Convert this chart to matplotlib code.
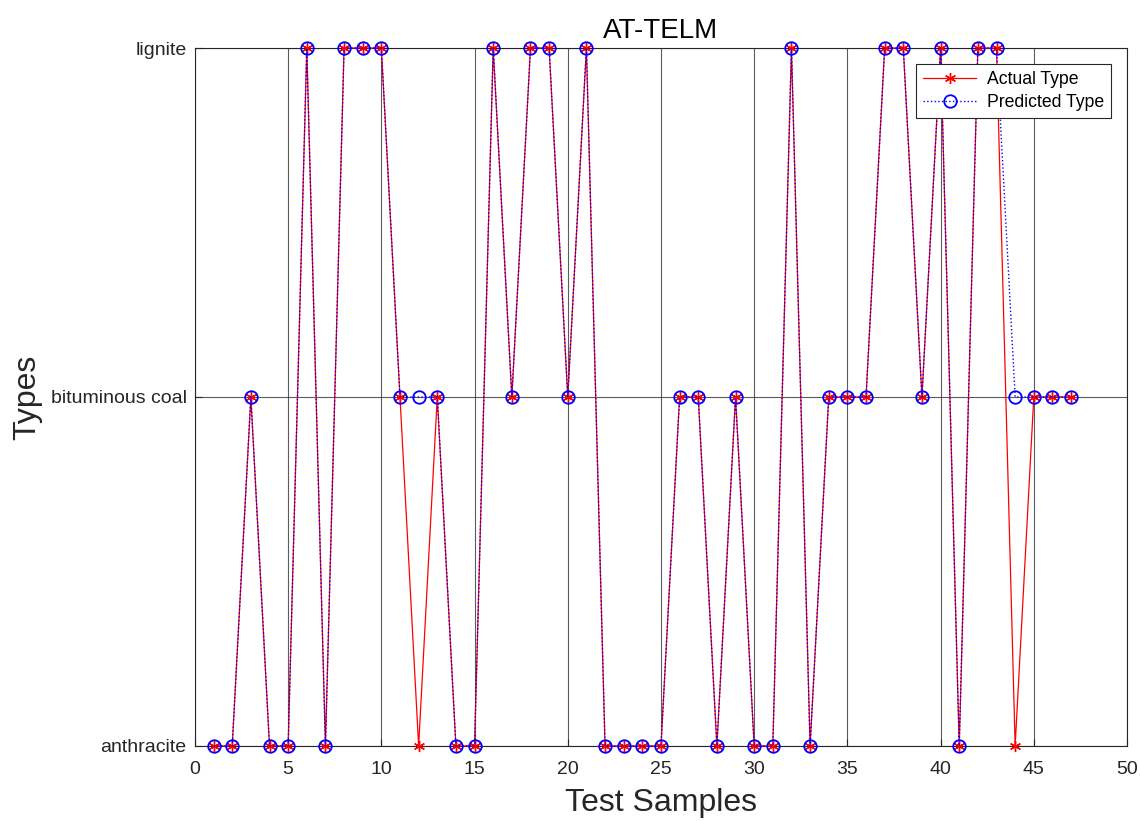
import numpy as np
import matplotlib.pyplot as plt

plt.rcParams['font.family'] = ['Liberation Sans', 'DejaVu Sans']

# 1 = anthracite, 2 = bituminous coal, 3 = lignite
samples = np.arange(1, 48)
actual = [1, 1, 2, 1, 1, 3, 1, 3, 3, 3,
          2, 1, 2, 1, 1, 3, 2, 3, 3, 2,
          3, 1, 1, 1, 1, 2, 2, 1, 2, 1,
          1, 3, 1, 2, 2, 2, 3, 3, 2, 3,
          1, 3, 3, 1, 2, 2, 2]
predicted = [1, 1, 2, 1, 1, 3, 1, 3, 3, 3,
             2, 2, 2, 1, 1, 3, 2, 3, 3, 2,
             3, 1, 1, 1, 1, 2, 2, 1, 2, 1,
             1, 3, 1, 2, 2, 2, 3, 3, 2, 3,
             1, 3, 3, 2, 2, 2, 2]
type_names = ['anthracite', 'bituminous coal', 'lignite']

fig = plt.figure(figsize=(11.4, 8.21), dpi=100)
ax = fig.add_axes([0.171, 0.0914, 0.8176, 0.8501])

ax.plot(samples, actual, 'r-', lw=0.9, marker=(6, 2, 0), ms=8, mew=1.0,
        label='Actual Type', clip_on=False, zorder=3)
ax.plot(samples, predicted, color='b', ls=':', lw=1.0, marker='o', ms=9,
        mfc='none', mec='b', mew=1.3, label='Predicted Type', clip_on=False, zorder=4)

ax.set_xlim(0, 50)
ax.set_ylim(1, 3)
ax.set_xticks(np.arange(0, 51, 5))
ax.set_yticks([1, 2, 3])
ax.set_yticklabels(type_names)
ax.tick_params(labelsize=14, direction='in', length=5, colors='#262626')
ax.tick_params(axis='x', pad=11)
ax.tick_params(axis='y', pad=6)
ax.grid(True, color='0.2', lw=0.8, alpha=0.8)
for s in ax.spines.values():
    s.set_color('#262626')
    s.set_linewidth(0.8)

ax.set_title('AT-TELM', fontsize=20, color='black', pad=7)
ax.set_xlabel('Test Samples', fontsize=23, color='#262626', labelpad=7)
ax.set_ylabel('Types', fontsize=23, color='#262626', labelpad=6)

leg = ax.legend(loc='upper right', bbox_to_anchor=(0.983, 0.977), fontsize=12.7,
                fancybox=False, edgecolor='#262626', framealpha=1,
                borderaxespad=0, borderpad=0.4, handlelength=3.0,
                labelspacing=0.35, handletextpad=0.6)
leg.get_frame().set_linewidth(0.8)

fig.savefig('out.png', dpi=100)
